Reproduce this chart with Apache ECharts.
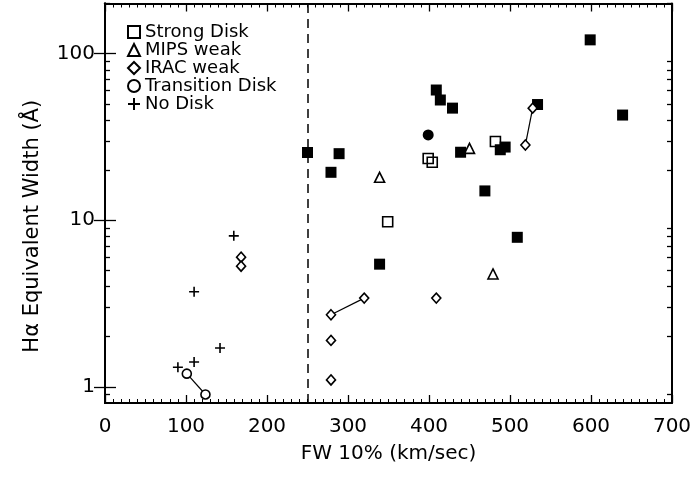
<!DOCTYPE html>
<html>
<head>
<meta charset="utf-8">
<script src="https://cdn.jsdelivr.net/npm/echarts@6/dist/echarts.min.js"></script>
<style>
  html, body { margin: 0; padding: 0; background: #fff; }
  #chart { width: 695px; height: 478px; }
</style>
</head>
<body>
<div id="chart"></div>
<script>
// data: [FW 10% (km/s), H-alpha EW (A)]
var strongDiskOpen = [[349, 9.8], [399, 23.5], [404, 22.3], [482, 29.7]];
var strongDiskFilled = [[250, 25.5], [279, 19.4], [289, 25.1], [339, 5.45], [409, 60.5],
    [414, 52.7], [429, 47.1], [439, 25.6], [469, 15.0], [488, 26.5], [494, 27.5],
    [509, 7.9], [534, 49.5], [599, 121], [639, 42.8]];
var mipsWeak = [[339, 18.1], [450, 27.0], [479, 4.76]];
var iracWeak = [[168, 6.0], [168, 5.3], [279, 2.71], [320, 3.41], [279, 1.9], [279, 1.1],
    [409, 3.41], [519, 28.3], [528, 47.1]];
var transitionOpen = [[101, 1.2], [124, 0.9]];
var transitionFilled = [[399, 32.5]];
var noDisk = [[159, 8.06], [110, 3.72], [142, 1.71], [110, 1.41], [90, 1.31]];
// same object seen twice, joined by a line
var linkedPairs = [
    [[101, 1.2], [124, 0.9]],
    [[168, 6.0], [168, 5.3]],
    [[279, 2.71], [320, 3.41]],
    [[519, 28.3], [528, 47.1]]
];
var cutoffFW = 250;

var yMajorTicks = [1, 10, 100];
var yMinorTicks = [0.9, 2, 3, 4, 5, 6, 7, 8, 9, 20, 30, 40, 50, 60, 70, 80, 90, 200];

var FONT = 'DejaVu Sans';
var plusPath = 'path://M5,0L5,10M0,5L10,5';

var chart = echarts.init(document.getElementById('chart'));

// log y axes: two per side, one for the long decade ticks, one for the short ones
function yAxisLog(pos, ticks, len, labels) {
    return {
        type: 'log', gridIndex: 0, position: pos, offset: 0, min: 0.8, max: 200, logBase: 10,
        axisLine: { show: true, lineStyle: { color: '#000', width: 2 } },
        axisTick: { show: true, inside: true, length: len, customValues: ticks,
            lineStyle: { color: '#000', width: 1.3 } },
        axisLabel: labels ? { show: true, customValues: yMajorTicks, color: '#000',
            fontFamily: FONT, fontSize: 20, margin: 10 } : { show: false },
        splitLine: { show: false },
        minorTick: { show: false }
    };
}

var yAxes = [yAxisLog('left', yMajorTicks, 11, true),
    yAxisLog('right', yMajorTicks, 11, false),
    yAxisLog('left', yMinorTicks, 5, false),
    yAxisLog('right', yMinorTicks, 5, false)];
yAxes[0].name = 'H\u03b1 Equivalent Width (\u00c5)';
yAxes[0].nameLocation = 'middle';
yAxes[0].nameGap = 62;
yAxes[0].nameTextStyle = { color: '#000', fontFamily: FONT, fontSize: 21, padding: [0, 46, 0, 0] };

function xAxisLin(pos) {
    return {
        type: 'value', gridIndex: 0, position: pos, min: 0, max: 700, interval: 100,
        axisLine: { show: true, onZero: false, lineStyle: { color: '#000', width: 2 } },
        axisTick: { show: true, inside: true, length: 8, lineStyle: { color: '#000', width: 1.3 } },
        minorTick: { show: true, splitNumber: 10, length: 4, lineStyle: { color: '#000', width: 1 } },
        axisLabel: { show: pos === 'bottom', color: '#000', fontFamily: FONT, fontSize: 20, margin: 14 },
        splitLine: { show: false }
    };
}

var xAxes = [xAxisLin('bottom'), xAxisLin('top')];
xAxes[0].name = 'FW 10% (km/sec)';
xAxes[0].nameLocation = 'middle';
xAxes[0].nameGap = 41;
xAxes[0].nameTextStyle = { color: '#000', fontFamily: FONT, fontSize: 20 };

var openStyle = { color: 'rgba(255,255,255,0)', borderColor: '#000', borderWidth: 1.6, opacity: 1 };
var openWhite = { color: '#fff', borderColor: '#000', borderWidth: 1.6, opacity: 1 };
var filledStyle = { color: '#000', opacity: 1 };

var series = [];
// the four y axes share one scale; each linked pair is bound to one of them so that every axis has data
linkedPairs.forEach(function (pair, i) {
    series.push({
        type: 'line', xAxisIndex: i % 2, yAxisIndex: i, data: pair, symbol: 'none',
        lineStyle: { color: '#000', width: 1.2 }, silent: true, z: 1
    });
});
series.push(
    { name: 'Strong Disk', type: 'scatter', data: strongDiskOpen, symbol: 'rect', symbolSize: 10,
      itemStyle: openStyle, z: 3,
      markLine: { silent: true, symbol: 'none', label: { show: false },
          lineStyle: { color: '#000', width: 1.5, type: [9, 6] },
          data: [{ xAxis: cutoffFW }] } },
    { name: 'Strong Disk filled', type: 'scatter', data: strongDiskFilled, symbol: 'rect',
      symbolSize: 11, itemStyle: filledStyle, z: 2 },
    { name: 'MIPS weak', type: 'scatter', data: mipsWeak, symbol: 'triangle', symbolSize: 10,
      itemStyle: openStyle, z: 3 },
    { name: 'IRAC weak', type: 'scatter', data: iracWeak, symbol: 'diamond', symbolSize: [9, 10],
      itemStyle: openWhite, z: 3 },
    { name: 'Transition Disk', type: 'scatter', data: transitionOpen, symbol: 'circle', symbolSize: 9,
      itemStyle: openWhite, z: 3 },
    { name: 'Transition Disk filled', type: 'scatter', data: transitionFilled, symbol: 'circle',
      symbolSize: 11, itemStyle: filledStyle, z: 3 },
    { name: 'No Disk', type: 'scatter', data: noDisk, symbol: plusPath, symbolSize: 10,
      itemStyle: { color: 'rgba(0,0,0,0)', borderColor: '#000', borderWidth: 1.6, opacity: 1 }, z: 3 }
);

var option = {
    animation: false,
    backgroundColor: '#fff',
    grid: { left: 105, right: 23, top: 3.5, bottom: 75 },
    xAxis: xAxes,
    yAxis: yAxes,
    legend: {
        data: ['Strong Disk', 'MIPS weak', 'IRAC weak', 'Transition Disk', 'No Disk'],
        orient: 'vertical', left: 127, top: 23, padding: 0,
        itemWidth: 12, itemHeight: 12, itemGap: 0, selectedMode: false,
        textStyle: { color: '#000', fontFamily: FONT, fontSize: 18, lineHeight: 16 }
    },
    series: series
};

chart.setOption(option);
</script>
</body>
</html>
